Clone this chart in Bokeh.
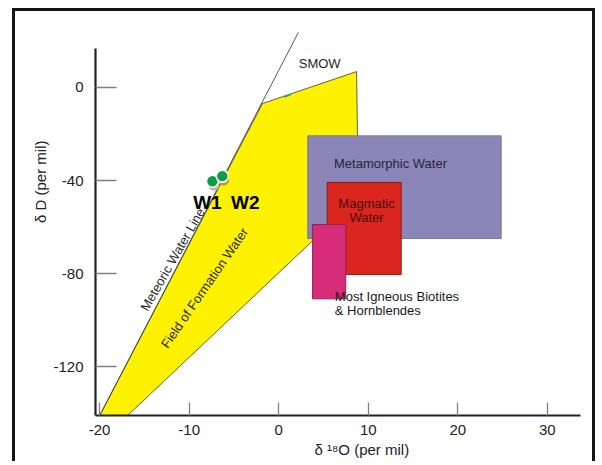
import math
from bokeh.plotting import figure
from bokeh.models import Range1d, FixedTicker, Title, ColumnDataSource
from bokeh.core.properties import value
from bokeh.embed import file_html
from bokeh.resources import INLINE

# ---------------- data ----------------
x_ticks = [-20, -10, 0, 10, 20, 30]
y_ticks = [-120, -80, -40, 0]

# Meteoric water line
mwl_d18o = [-20.0, 2.2]
mwl_dD = [-141.0, 23.6]

# Field of formation water (polygon)
formation_d18o = [-20.0, -16.9, 8.9, 8.7, -1.8]
formation_dD = [-141.0, -141.0, -47.3, 6.8, -6.9]

# Rectangular fields
field_names = ["Metamorphic Water", "Magmatic Water", "Most Igneous Biotites & Hornblendes"]
field_left = [3.25, 5.42, 3.77]
field_right = [24.85, 13.68, 7.49]
field_top = [-20.8, -40.8, -58.9]
field_bottom = [-64.9, -80.3, -90.8]
field_fill = ["#8c85b8", "#da261e", "#d62c7a"]
field_line = ["#7a7a8a", "#8e1b16", "#8a2455"]

# SMOW mark
smow_d18o = [1.0]
smow_dD = [-3.5]

# Samples
sample_names = ["W1", "W2"]
sample_d18o = [-7.4, -6.3]
sample_dD = [-40.3, -38.1]

FONT = "Liberation Sans"
W, H = 583, 453

p = figure(width=W, height=H, output_backend="svg", toolbar_location=None,
           x_range=Range1d(-20.46, 33.71), y_range=Range1d(-140.9, 25.3),
           min_border_left=80, min_border_right=18, min_border_top=17,
           min_border_bottom=49)
p.styles = {"border-left": "3px solid #151515", "border-top": "3px solid #151515",
            "border-right": "3px solid #151515", "margin-left": "12px",
            "margin-top": "8px"}
p.outline_line_color = None
p.grid.visible = False
p.background_fill_color = "white"
p.border_fill_color = "white"

p.xaxis.ticker = FixedTicker(ticks=x_ticks)
p.yaxis.ticker = FixedTicker(ticks=y_ticks)
p.xaxis.major_label_overrides = {t: str(t) for t in x_ticks}
p.yaxis.major_label_overrides = {t: str(t) for t in y_ticks}
p.axis.minor_tick_line_color = None
p.axis.major_tick_out = 0
p.xaxis.major_tick_in = 13
p.yaxis.major_tick_in = 21
p.axis.major_tick_line_color = "#808080"
p.axis.major_tick_line_width = 1.3
p.axis.axis_line_color = "#222222"
p.axis.axis_line_width = 2.2
p.yaxis.bounds = (-140.9, 16.7)
p.axis.major_label_text_font = FONT
p.axis.major_label_text_font_size = "15px"
p.axis.major_label_text_color = "#222222"
p.xaxis.major_label_standoff = 9
p.yaxis.major_label_standoff = 12

# Formation water polygon
p.patch(formation_d18o, formation_dD, fill_color="#fff200", line_color="#3a3a2a",
        line_width=0.8)
# Meteoric water line
p.line(mwl_d18o, mwl_dD, line_color="#444444", line_width=0.9)

# SMOW mark
p.scatter(smow_d18o, smow_dD, marker="dash", size=7, line_color="#2fa88c",
          line_width=2, angle=0.33)

# Rectangular fields
src = ColumnDataSource(dict(left=field_left, right=field_right, top=field_top,
                            bottom=field_bottom, fill=field_fill, line=field_line))
p.quad(left="left", right="right", top="top", bottom="bottom", source=src,
       fill_color="fill", line_color="line", line_width=1)

def txt(x, y, t, size="13px", color="#222222", angle=0.0, align="center",
        style="normal"):
    p.text(x=[x], y=[y], text=[t], text_font=value(FONT), text_font_size=size,
           text_color=color, angle=angle, text_align=align,
           text_baseline="middle", text_font_style=style)

txt(4.58, 10.3, "SMOW", color="#1e1e1e")
txt(12.49, -32.7, "Metamorphic Water", color="#25253a")
txt(9.81, -49.8, "Magmatic", color="#4a0d0a")
txt(9.81, -56.0, "Water", color="#4a0d0a")
txt(6.27, -89.6, "Most Igneous Biotites", color="#1a1a1a", align="left")
txt(6.27, -95.7, "& Hornblendes", color="#1a1a1a", align="left")
txt(-11.85, -73.9, "Meteoric Water Line", angle=math.radians(60.2), color="#2a2a2a")
txt(-8.28, -86.1, "Field of Formation Water", angle=math.radians(55.4), color="#2a2a2a")

# Samples: shadows, points, labels
p.scatter([d + 0.15 for d in sample_d18o], [d - 1.7 for d in sample_dD],
          size=11, fill_color=["#c9b6b2", "#c6983a"], line_color=None)
p.scatter(sample_d18o, sample_dD, size=12, fill_color="#0a9e48",
          line_color="white", line_width=1.6)
ssrc = ColumnDataSource(dict(x=sample_d18o, y=sample_dD, name=sample_names,
                             xo=[-5, 23], yo=[21, 26]))
p.text(x="x", y="y", text="name", x_offset="xo", y_offset="yo", source=ssrc,
       text_font=value(FONT), text_font_size="19px", text_font_style="bold",
       text_color="#000000", text_align="center", text_baseline="middle")

# Axis titles (as side titles so they can be placed off-centre)
p.add_layout(Title(text="δ D (per mil)", align="right", offset=112, standoff=4,
                   text_font=FONT, text_font_size="15px", text_font_style="normal",
                   text_color="#222222"), "left")
p.add_layout(Title(text="δ ¹⁸O (per mil)", align="left", offset=219, standoff=2,
                   text_font=FONT, text_font_size="15px", text_font_style="normal",
                   text_color="#222222"), "below")

open("out.html", "w").write(file_html(p, INLINE))
